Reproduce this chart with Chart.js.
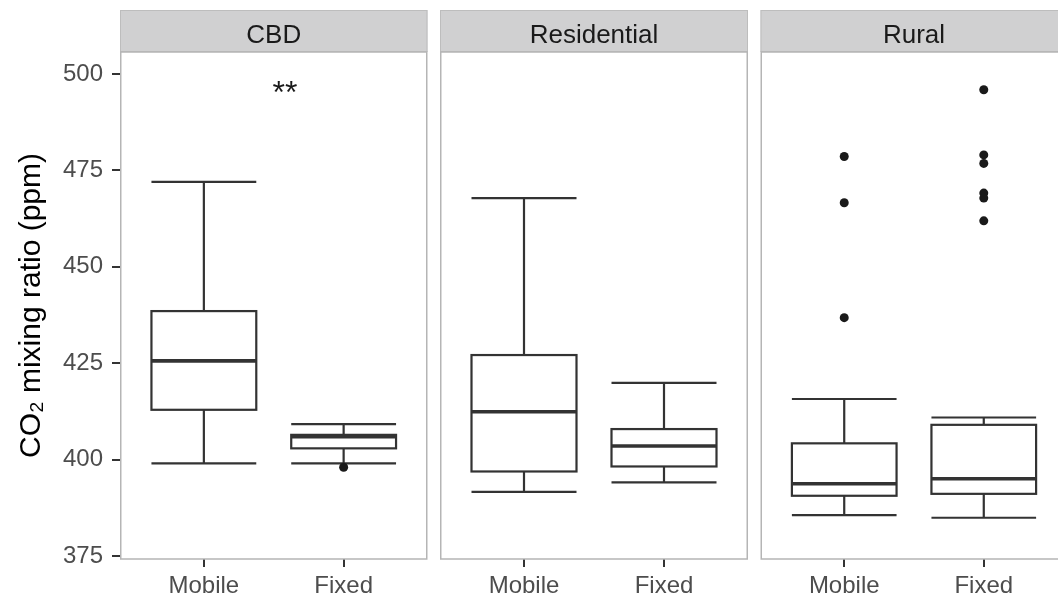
<!DOCTYPE html>
<html>
<head>
<meta charset="utf-8">
<script src="https://cdn.jsdelivr.net/npm/chart.js@4.4.1/dist/chart.umd.min.js"></script>
<style>
  html, body { margin: 0; padding: 0; background: #ffffff; }
  body { width: 1058px; height: 599px; overflow: hidden; position: relative; }
  canvas { position: absolute; top: 0; }
</style>
</head>
<body>
<canvas id="c0" width="432" height="599" style="left:0px"></canvas>
<canvas id="c1" width="316" height="599" style="left:436px"></canvas>
<canvas id="c2" width="316" height="599" style="left:756px"></canvas>
<script>
// ---------------- data ----------------
const panels = ['CBD', 'Residential', 'Rural'];
const groups = ['Mobile', 'Fixed'];
const yTicks = [375, 400, 425, 450, 475, 500];
// per panel: [Mobile, Fixed]
const whiskerLow  = [[399.0, 399.0], [391.6, 394.1], [385.6, 384.9]];
const q1          = [[412.9, 402.9], [396.9, 398.2], [390.6, 391.1]];
const median      = [[425.6, 405.9], [412.4, 403.5], [393.7, 395.0]];
const q3          = [[438.5, 406.4], [427.1, 407.9], [404.2, 409.0]];
const whiskerHigh = [[472.0, 409.2], [467.8, 419.9], [415.7, 410.9]];
const outliers = [
  [[], [398.0]],
  [[], []],
  [[478.6, 466.6, 436.8], [495.9, 479.0, 476.8, 469.1, 467.8, 461.9]]
];
const annotationText = '**';
const annotationPanel = 0;
const annotationX = 1.58;
const annotationY = 496;

// ---------------- style ----------------
const FONT = '"Liberation Sans", Arial, Helvetica, sans-serif';
const LINE = '#333333';
const Y_MIN = 374.2, Y_MAX = 505.7;

const boxPlugin = {
  id: 'boxfacet',
  beforeDraw(chart) {
    const ctx = chart.ctx;
    ctx.save();
    ctx.fillStyle = '#ffffff';
    ctx.fillRect(0, 0, chart.width, chart.height);
    ctx.restore();
  },
  beforeDatasetsDraw(chart) {
    const pi = chart.options.plugins.boxfacet.panel;
    const { ctx, chartArea: a, scales: { x, y } } = chart;
    ctx.save();
    // strip
    ctx.fillStyle = '#d0d0d1';
    ctx.fillRect(a.left, 10, a.right - a.left, a.top - 10);
    ctx.strokeStyle = '#bdbdbd';
    ctx.lineWidth = 1;
    ctx.strokeRect(a.left + 0.5, 10.5, a.right - a.left - 1, a.top - 11);
    ctx.fillStyle = '#1a1a1a';
    ctx.font = '26px ' + FONT;
    ctx.textAlign = 'center';
    ctx.textBaseline = 'alphabetic';
    ctx.fillText(panels[pi], (a.left + a.right) / 2, 43);

    // boxes
    groups.forEach((g, gi) => {
      const cx = x.getPixelForValue(gi + 1);
      const hw = x.getPixelForValue(gi + 1 + 0.375) - cx;
      const yLo = y.getPixelForValue(whiskerLow[pi][gi]);
      const yQ1 = y.getPixelForValue(q1[pi][gi]);
      const yMd = y.getPixelForValue(median[pi][gi]);
      const yQ3 = y.getPixelForValue(q3[pi][gi]);
      const yHi = y.getPixelForValue(whiskerHigh[pi][gi]);
      ctx.strokeStyle = LINE;
      ctx.lineWidth = 2.2;
      ctx.lineCap = 'butt';
      // error bar caps + vertical
      ctx.beginPath();
      ctx.moveTo(cx - hw, yLo); ctx.lineTo(cx + hw, yLo);
      ctx.moveTo(cx - hw, yHi); ctx.lineTo(cx + hw, yHi);
      ctx.moveTo(cx, yLo); ctx.lineTo(cx, yHi);
      ctx.stroke();
      // box
      ctx.fillStyle = '#ffffff';
      ctx.fillRect(cx - hw, yQ3, 2 * hw, yQ1 - yQ3);
      ctx.strokeRect(cx - hw, yQ3, 2 * hw, yQ1 - yQ3);
      // median
      ctx.lineWidth = 3.6;
      ctx.beginPath();
      ctx.moveTo(cx - hw, yMd); ctx.lineTo(cx + hw, yMd);
      ctx.stroke();
    });

    if (pi === annotationPanel) {
      ctx.fillStyle = '#1a1a1a';
      ctx.font = '32px ' + FONT;
      ctx.textAlign = 'center';
      ctx.textBaseline = 'alphabetic';
      ctx.fillText(annotationText, x.getPixelForValue(annotationX), y.getPixelForValue(annotationY) + 14);
    }
    ctx.restore();
  },
  afterDraw(chart) {
    const { ctx, chartArea: a } = chart;
    ctx.save();
    ctx.strokeStyle = '#b5b5b5';
    ctx.lineWidth = 1.5;
    ctx.strokeRect(a.left + 0.75, a.top, a.right - a.left - 1.5, a.bottom - a.top);
    ctx.restore();
  }
};

function makeChart(id, pi, showY, padLeft, padRight) {
  const pts = [];
  groups.forEach((g, gi) => outliers[pi][gi].forEach(v => pts.push({ x: gi + 1, y: v })));
  return new Chart(document.getElementById(id), {
    type: 'scatter',
    data: {
      datasets: [{
        data: pts,
        pointRadius: 4.5,
        pointHoverRadius: 4.5,
        backgroundColor: '#1a1a1a',
        borderWidth: 0
      }]
    },
    options: {
      responsive: false,
      animation: false,
      events: [],
      layout: { padding: { top: 52, right: padRight, left: padLeft, bottom: 0 } },
      plugins: {
        legend: { display: false },
        tooltip: { enabled: false },
        boxfacet: { panel: pi }
      },
      scales: {
        x: {
          type: 'linear',
          min: 0.4, max: 2.6,
          afterBuildTicks: s => { s.ticks = groups.map((g, i) => ({ value: i + 1 })); },
          afterFit: s => { s.height = 40; },
          ticks: {
            callback: v => groups[v - 1],
            color: '#4d4d4d',
            font: { family: FONT, size: 24 },
            padding: 5,
            maxRotation: 0,
            autoSkip: false
          },
          grid: { drawOnChartArea: false, tickLength: 8, color: LINE, lineWidth: 2 },
          border: { display: false }
        },
        y: {
          type: 'linear',
          display: showY,
          min: Y_MIN, max: Y_MAX,
          afterBuildTicks: s => { s.ticks = yTicks.map(v => ({ value: v })); },
          afterFit: s => { s.width = showY ? 120 : 0; },
          ticks: {
            color: '#4d4d4d',
            font: { family: FONT, size: 24 },
            padding: 9
          },
          grid: { drawOnChartArea: false, tickLength: 8, color: LINE, lineWidth: 2 },
          border: { display: false },
          title: {
            display: true,
            text: 'CO\u2082 mixing ratio (ppm)',
            color: '#000000',
            font: { family: FONT, size: 30 },
            padding: { top: 14, bottom: 0 }
          }
        }
      }
    },
    plugins: [boxPlugin]
  });
}

makeChart('c0', 0, true, 0, 4);
makeChart('c1', 1, false, 4, 4);
makeChart('c2', 2, false, 4, 4);
</script>
</body>
</html>
